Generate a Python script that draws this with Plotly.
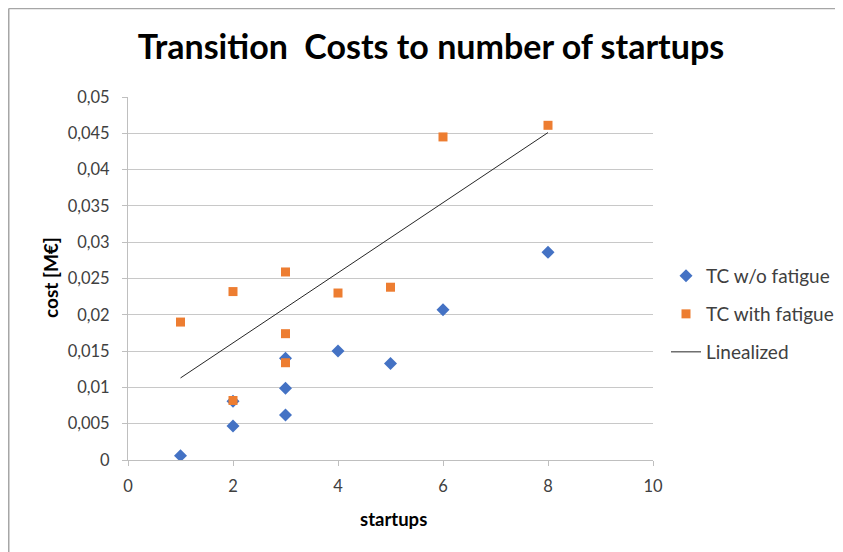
import plotly.graph_objects as go

# Data
x_wo = [1, 2, 2, 3, 3, 3, 4, 5, 6, 8]
y_wo = [0.0006, 0.0047, 0.0081, 0.0062, 0.0099, 0.0140, 0.0150, 0.0133, 0.0207, 0.0286]

x_with = [1, 2, 2, 3, 3, 3, 4, 5, 6, 8]
y_with = [0.0190, 0.0232, 0.0082, 0.0259, 0.0174, 0.0134, 0.0230, 0.0238, 0.0445, 0.0461]

x_lin = [1, 8]
y_lin = [0.0113, 0.0451]

y_tickvals = [0, 0.005, 0.01, 0.015, 0.02, 0.025, 0.03, 0.035, 0.04, 0.045, 0.05]
y_ticktext = ["0", "0,005", "0,01", "0,015", "0,02", "0,025", "0,03", "0,035", "0,04", "0,045", "0,05"]
x_tickvals = [0, 2, 4, 6, 8, 10]

FONT = "Lato"
OFF = 8  # page body margin offset
W, H = 843, 552
# screen-pixel positions of plot area in the reference
L, R, T, B = 128 - OFF, 653 - OFF, 97 - OFF, 460 - OFF
PW, PH = R - L, B - T

def px_to_paper_x(px):
    return (px - OFF - L) / PW

def px_to_paper_y(py):
    return (B - (py - OFF)) / PH

fig = go.Figure()
fig.add_trace(go.Scatter(
    x=x_wo, y=y_wo, mode="markers", name="TC w/o fatigue",
    marker=dict(symbol="diamond", size=10, color="#4472C4"),
    legend="legend",
))
fig.add_trace(go.Scatter(
    x=x_with, y=y_with, mode="markers", name="TC with fatigue",
    marker=dict(symbol="square", size=9, color="#ED7D31"),
    legend="legend2",
))
fig.add_trace(go.Scatter(
    x=x_lin, y=y_lin, mode="lines", name="Linealized",
    line=dict(color="#262626", width=1),
    legend="legend3",
))

leg_common = dict(font=dict(family=FONT, size=19, color="#404040"),
                  bgcolor="rgba(0,0,0,0)", xanchor="left", yanchor="middle")

fig.update_layout(
    width=W, height=H,
    margin=dict(l=L, r=W - R, t=T, b=H - B, pad=0),
    paper_bgcolor="white", plot_bgcolor="white",
    title=dict(text="<b>Transition  Costs to number of startups</b>",
               font=dict(family=FONT, size=34, color="black"),
               x=(431 - OFF) / W, xref="container", xanchor="center",
               y=1 - (47 - OFF) / H, yref="container", yanchor="middle"),
    xaxis=dict(range=[0, 10], tickvals=x_tickvals, showgrid=False,
               showline=True, linecolor="#bfbfbf", linewidth=1,
               ticks="outside", ticklen=5, tickcolor="#bfbfbf",
               ticklabelstandoff=6,
               tickfont=dict(family=FONT, size=16.5, color="#404040"),
               zeroline=False, fixedrange=True),
    yaxis=dict(range=[0, 0.05], tickvals=y_tickvals, ticktext=y_ticktext,
               showgrid=True, gridcolor="#c8c8c8", gridwidth=1,
               showline=True, linecolor="#bfbfbf", linewidth=1,
               ticks="outside", ticklen=5, tickcolor="#bfbfbf",
               ticklabelstandoff=9,
               tickfont=dict(family=FONT, size=16.5, color="#404040"),
               zeroline=False, fixedrange=True),
    showlegend=True,
    legend=dict(x=px_to_paper_x(666), y=px_to_paper_y(276), **leg_common),
    legend2=dict(x=px_to_paper_x(666), y=px_to_paper_y(314), **leg_common),
    legend3=dict(x=px_to_paper_x(666), y=px_to_paper_y(352), **leg_common),
    annotations=[
        dict(text="<b>cost [M€]</b>", xref="paper", yref="paper",
             x=px_to_paper_x(50), y=px_to_paper_y(278), textangle=-90,
             showarrow=False, xanchor="center", yanchor="middle",
             font=dict(family=FONT, size=19, color="black")),
        dict(text="<b>startups</b>", xref="paper", yref="paper",
             x=px_to_paper_x(393), y=px_to_paper_y(519),
             showarrow=False, xanchor="center", yanchor="middle",
             font=dict(family=FONT, size=18.5, color="black")),
    ],
    shapes=[
        dict(type="line", xref="paper", yref="paper",
             x0=px_to_paper_x(8.75), x1=px_to_paper_x(8.75),
             y0=px_to_paper_y(560), y1=px_to_paper_y(8.5),
             line=dict(color="#a6a6a6", width=1.5)),
        dict(type="line", xref="paper", yref="paper",
             x0=px_to_paper_x(8.75), x1=px_to_paper_x(850),
             y0=px_to_paper_y(8.5), y1=px_to_paper_y(8.5),
             line=dict(color="#a6a6a6", width=1.5)),
    ],
    hovermode=False,
)

fig.write_html("out.html")
